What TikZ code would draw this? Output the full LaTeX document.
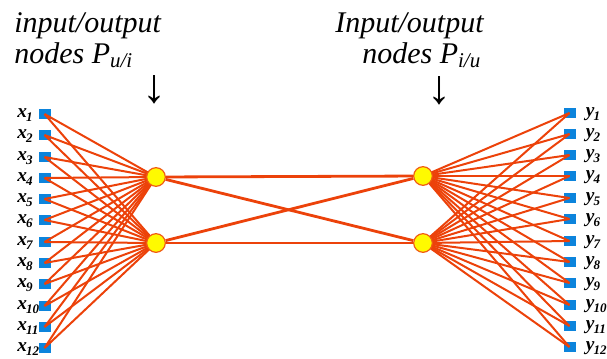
\documentclass[tikz,border=0pt]{standalone}
\usepackage{fontspec}
\setmainfont{Liberation Serif}
\definecolor{sqblue}{RGB}{12,132,220}
\definecolor{linkred}{RGB}{236,66,10}
\definecolor{circborder}{RGB}{240,90,20}
\definecolor{circfill}{RGB}{255,250,0}
\pgfdeclarelayer{sqlayer}
\pgfdeclarelayer{linklayer}
\pgfsetlayers{sqlayer,linklayer,main}
\newcommand\labsub[1]{\kern-0.6pt\raisebox{-0.22em}{\fontsize{9.8}{10}\selectfont #1}}
\begin{document}
\begin{tikzpicture}[x=0.75pt,y=-0.75pt,
  sq/.style={fill=sqblue, minimum width=9pt, minimum height=8pt, inner sep=0pt},
  hid/.style={circle, fill=circfill, draw=circborder, line width=0.9pt, minimum size=14pt, inner sep=0pt},
  link/.style={draw=linkred, line width=1.5pt},
  midlink/.style={draw=linkred, line width=2.1pt},
  lab/.style={font=\fontsize{14.5}{15}\selectfont\bfseries\itshape, inner sep=0pt, anchor=base west},
  head/.style={font=\fontsize{22.5}{23}\selectfont\itshape, inner sep=0pt, anchor=base west},
  arrowtxt/.style={font=\fontsize{36}{36}\selectfont, inner sep=0pt}]
\useasboundingbox (0,0) rectangle (607,358);
% hidden nodes
\node[hid] (L1) at (156,177) {};
\node[hid] (L2) at (156,243) {};
\node[hid] (R1) at (423,176) {};
\node[hid] (R2) at (423,243) {};
% squares and labels
\begin{pgfonlayer}{sqlayer}
\foreach \i/\yy in {1/114,2/135,3/157,4/178,5/199,6/220,7/242,8/263,9/284,10/306,11/327,12/348}{
  \node[sq] (x\i) at (44.5,\yy) {};
}
\foreach \i/\yy in {1/113,2/134,3/155,4/176,5/198,6/219,7/241,8/262,9/283,10/305,11/326,12/347}{
  \node[sq] (y\i) at (569.5,\yy) {};
}
\end{pgfonlayer}
\foreach \i/\yy in {1/114,2/135,3/157,4/178,5/199,6/220,7/242,8/263,9/284,10/306,11/327,12/348}{
  \node[lab] (lx\i) at (17,\yy+3) {x\labsub{\i}};
}
\foreach \i/\yy in {1/113,2/134,3/155,4/176,5/198,6/219,7/241,8/262,9/283,10/305,11/326,12/347}{
  \node[lab] (ly\i) at (585.5,\yy+3) {y\labsub{\i}};
}
% links
\begin{pgfonlayer}{linklayer}
\foreach \i in {1,...,12}{
  \draw[link] (x\i.center) -- (L1.center);
  \draw[link] (x\i.center) -- (L2.center);
  \draw[link] (y\i.center) -- (R1.center);
  \draw[link] (y\i.center) -- (R2.center);
}
\draw[midlink] (L1) -- (R1);
\draw[midlink] (L1) -- (R2);
\draw[midlink] (L2) -- (R1);
\draw[midlink] (L2) -- (R2);
\end{pgfonlayer}
% headings
\node[head] (h1a) at (14,32) {input/output};
\node[head] (h1b) at (14,63) {nodes P\textsubscript{u/i}};
\node[head] (h2a) at (335,32) {Input/output};
\node[head] (h2b) at (362,63) {nodes P\textsubscript{i/u}};
\node[arrowtxt] (a1) at (154,90) {↓};
\node[arrowtxt] (a2) at (439,91) {↓};
\end{tikzpicture}
\end{document}
